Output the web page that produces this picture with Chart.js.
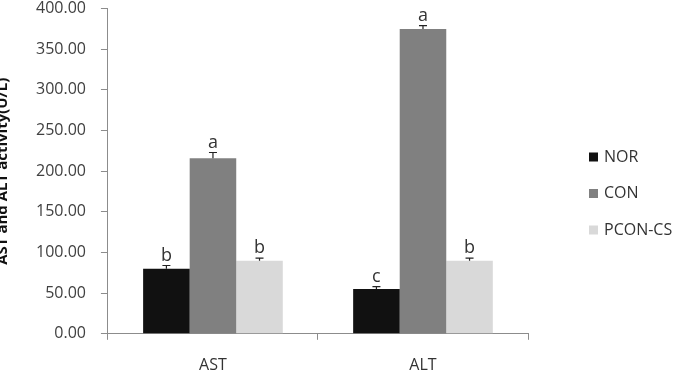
<!DOCTYPE html>
<html><head><meta charset="utf-8">
<script src="https://cdn.jsdelivr.net/npm/chart.js@4/dist/chart.umd.min.js"></script>
<style>
html,body{margin:0;padding:0;background:#fff;overflow:hidden;}
#wrap{position:absolute;left:-6px;top:-16px;width:689px;height:409px;}
</style></head>
<body><div id="wrap"><canvas id="c"></canvas></div>
<script>
const categories = ['AST', 'ALT'];
const seriesNames = ['NOR', 'CON', 'PCON-CS'];
const norValues = [80, 55];
const conValues = [216, 375];
const pconValues = [90, 90];
const norErrors = [4, 3];
const conErrors = [7, 4];
const pconErrors = [3, 3];
const norLetters = ['b', 'c'];
const conLetters = ['a', 'a'];
const pconLetters = ['b', 'b'];
const yTicks = [0, 50, 100, 150, 200, 250, 300, 350, 400];
const colors = ['#111111', '#808080', '#d9d9d9'];

const FONT = "'Open Sans', sans-serif";

const errPlugin = {
  id: 'errLetters',
  afterDatasetsDraw(chart) {
    const ctx = chart.ctx, ys = chart.scales.y;
    chart.data.datasets.forEach((ds, i) => {
      const meta = chart.getDatasetMeta(i);
      meta.data.forEach((el, j) => {
        const v = ds.data[j], e = ds.errors[j];
        const yb = ys.getPixelForValue(v), yt = ys.getPixelForValue(v + e);
        ctx.save();
        ctx.strokeStyle = '#222'; ctx.lineWidth = 1.2;
        ctx.beginPath();
        ctx.moveTo(el.x, yb); ctx.lineTo(el.x, yt);
        ctx.moveTo(el.x - 4, yt); ctx.lineTo(el.x + 4, yt);
        ctx.stroke();
        ctx.fillStyle = '#333';
        ctx.font = "18px " + FONT;
        ctx.textAlign = 'center'; ctx.textBaseline = 'alphabetic';
        ctx.fillText(ds.letters[j], el.x, yt - 5);
        ctx.restore();
      });
    });
  }
};

const legendPlugin = {
  id: 'sideLegend',
  afterDraw(chart) {
    const ctx = chart.ctx;
    const x0 = chart.chartArea.right + 61;
    const y0 = 157 + 16;
    chart.data.datasets.forEach((ds, i) => {
      const y = y0 + i * 36.5;
      ctx.save();
      ctx.fillStyle = ds.backgroundColor;
      ctx.fillRect(x0, y - 4.5, 9, 9);
      ctx.fillStyle = '#333';
      ctx.font = "16px " + FONT;
      ctx.textBaseline = 'middle';
      ctx.fillText(ds.label, x0 + 15, y);
      ctx.restore();
    });
  }
};

new Chart(document.getElementById('c'), {
  type: 'bar',
  data: {
    labels: categories,
    datasets: [
      { label: seriesNames[0], data: norValues, errors: norErrors, letters: norLetters, backgroundColor: colors[0] },
      { label: seriesNames[1], data: conValues, errors: conErrors, letters: conLetters, backgroundColor: colors[1] },
      { label: seriesNames[2], data: pconValues, errors: pconErrors, letters: pconLetters, backgroundColor: colors[2] }
    ]
  },
  options: {
    responsive: true, maintainAspectRatio: false, animation: false,
    layout: { padding: { left: 0, right: 155, top: 0, bottom: 2 } },
    datasets: { bar: { categoryPercentage: 0.665, barPercentage: 1 } },
    plugins: { legend: { display: false }, tooltip: { enabled: false } },
    scales: {
      x: {
        grid: { display: true, drawOnChartArea: false, offset: true, tickLength: 6, color: '#8c8c8c' },
        border: { color: '#8c8c8c' },
        ticks: { color: '#333', padding: 16, font: { family: FONT, size: 16 } }
      },
      y: {
        min: 0, max: 400,
        afterBuildTicks(s) { s.ticks = yTicks.map(v => ({ value: v })); },
        grid: { display: true, drawOnChartArea: false, tickLength: 7, color: '#8c8c8c' },
        border: { color: '#8c8c8c' },
        ticks: { color: '#404040', padding: 15, font: { family: FONT, size: 16 }, callback: v => Number(v).toFixed(2) },
        title: { display: true, text: 'AST and ALT activity(U/L)', color: '#111', font: { family: FONT, size: 15, weight: 'bold' }, padding: { top: 0, bottom: 9 } }
      }
    }
  },
  plugins: [errPlugin, legendPlugin]
});
</script></body></html>
